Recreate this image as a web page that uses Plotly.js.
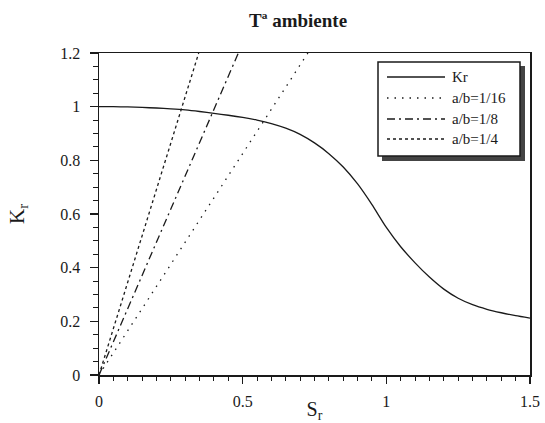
<!DOCTYPE html>
<html>
<head>
<meta charset="utf-8">
<script src="https://cdn.plot.ly/plotly-3.0.1.min.js"></script>
<style>html,body{margin:0;padding:0;background:#fff;}#chart{width:545px;height:423px;}</style>
</head>
<body>
<div id="chart"></div>
<script>
// Kr curve
const krX = [0, 0.05, 0.1, 0.15, 0.2, 0.25, 0.3, 0.35, 0.4, 0.45, 0.5, 0.55, 0.6, 0.65, 0.7, 0.75,
             0.8, 0.85, 0.9, 0.95, 1.0, 1.05, 1.1, 1.15, 1.2, 1.25, 1.3, 1.35, 1.4, 1.45, 1.5];
const krY = [1.0, 1.0, 0.999, 0.997, 0.995, 0.992, 0.988, 0.982, 0.975, 0.968, 0.96, 0.95, 0.937, 0.92, 0.897, 0.865,
             0.825, 0.775, 0.712, 0.635, 0.55, 0.478, 0.418, 0.365, 0.32, 0.286, 0.262, 0.245, 0.232, 0.221, 0.212];
// straight lines from the origin (end where they leave the top of the frame)
const ab16X = [0, 0.727];
const ab16Y = [0, 1.2];
const ab8X = [0, 0.485];
const ab8Y = [0, 1.2];
const ab4X = [0, 0.347];
const ab4Y = [0, 1.2];
const seriesNames = ['Kr', 'a/b=1/16', 'a/b=1/8', 'a/b=1/4'];
const xTicks = [0, 0.5, 1, 1.5];
const yTicks = [0, 0.2, 0.4, 0.6, 0.8, 1, 1.2];

const ink = '#1a1a1a';
const serif = '"Liberation Serif", serif';
const dashes = ['solid', '1.5px,6px', '8px,4px,2px,4px', '3px,3px'];

const traces = [
  {x: krX, y: krY, name: seriesNames[0], mode: 'lines', line: {color: ink, width: 1.3, shape: 'spline', smoothing: 0.6, dash: dashes[0]}},
  {x: ab16X, y: ab16Y, name: seriesNames[1], mode: 'lines', line: {color: ink, width: 1.3, dash: dashes[1]}},
  {x: ab8X, y: ab8Y, name: seriesNames[2], mode: 'lines', line: {color: ink, width: 1.3, dash: dashes[2]}},
  {x: ab4X, y: ab4Y, name: seriesNames[3], mode: 'lines', line: {color: ink, width: 1.3, dash: dashes[3]}}
];

// plot area in pixels (for the hand-drawn legend box)
const M = {l: 99, r: 15, t: 53, b: 48};
const PW = 545 - M.l - M.r, PH = 423 - M.t - M.b;
const px = v => (v - M.l) / PW;
const py = v => (423 - M.b - v) / PH;

const shapes = [
  {type: 'rect', xref: 'paper', yref: 'paper', layer: 'above', x0: px(382), x1: px(525), y0: py(161), y1: py(66),
   fillcolor: '#444', line: {width: 0}},
  {type: 'rect', xref: 'paper', yref: 'paper', layer: 'above', x0: px(378), x1: px(520), y0: py(156), y1: py(62),
   fillcolor: '#fff', line: {color: ink, width: 1.5}}
];
const annotations = [];
const rowY = [77, 98, 119, 139];
seriesNames.forEach((n, i) => {
  shapes.push({type: 'line', xref: 'paper', yref: 'paper', layer: 'above', x0: px(387), x1: px(445), y0: py(rowY[i]), y1: py(rowY[i]),
    line: {color: ink, width: 1.3, dash: dashes[i]}});
  annotations.push({xref: 'paper', yref: 'paper', x: px(450), y: py(rowY[i]), xanchor: 'left', yanchor: 'middle', showarrow: false,
    text: n, font: {family: serif, size: 15, color: ink}});
});

const layout = {
  width: 545, height: 423,
  margin: M,
  paper_bgcolor: '#fff', plot_bgcolor: '#fff',
  font: {family: serif, color: ink, size: 15},
  showlegend: false,
  title: {text: '<b>Tª ambiente</b>', x: 0.547, xanchor: 'center', y: 0.953, yanchor: 'middle', font: {family: serif, size: 19, color: ink}},
  xaxis: {
    range: [0, 1.5], tickvals: xTicks, ticks: 'outside', ticklen: 7, tickwidth: 1.2, tickcolor: ink,
    minor: {dtick: 0.05, ticks: 'outside', ticklen: 4, tickwidth: 1, tickcolor: ink, showgrid: false},
    showgrid: false, zeroline: false, showline: true, linecolor: ink, linewidth: 1.5, mirror: true,
    ticklabelstandoff: 4, tickfont: {family: serif, size: 16, color: ink},
    title: {text: 'S<sub>r</sub>', font: {family: serif, size: 20, color: ink}, standoff: 8},
    automargin: false
  },
  yaxis: {
    range: [0, 1.2], tickvals: yTicks, ticks: 'outside', ticklen: 8, tickwidth: 1.2, tickcolor: ink,
    minor: {dtick: 0.05, ticks: 'outside', ticklen: 5, tickwidth: 1, tickcolor: ink, showgrid: false},
    showgrid: false, zeroline: false, showline: true, linecolor: ink, linewidth: 1.5, mirror: true,
    ticklabelstandoff: 6, tickfont: {family: serif, size: 16, color: ink},
    title: {text: 'K<sub>r</sub>', font: {family: serif, size: 21, color: ink}, standoff: 30},
    automargin: false
  },
  shapes: shapes,
  annotations: annotations
};

Plotly.newPlot('chart', traces, layout, {displayModeBar: false, staticPlot: true});
</script>
</body>
</html>
